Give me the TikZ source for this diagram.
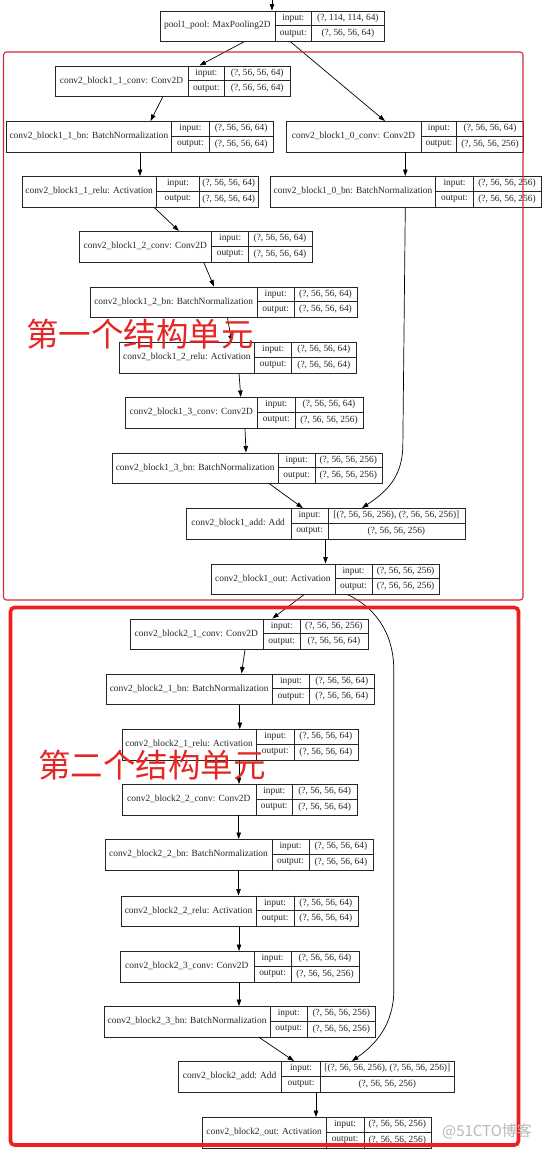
\documentclass[tikz,border=0pt]{standalone}
\usepackage{fontspec}
\setmainfont{Liberation Serif}
\newfontfamily\cjk{Noto Sans CJK SC}
\usetikzlibrary{arrows.meta}
\definecolor{redA}{RGB}{214,40,60}
\definecolor{redB}{RGB}{238,32,28}
\definecolor{redT}{RGB}{228,38,36}
\tikzset{
 lbox/.style={draw=black!85, line width=0.8pt, inner sep=0pt, anchor=north west, minimum height=30.5pt},
 lline/.style={draw=black!85, line width=0.8pt},
 ltxt/.style={inner sep=0pt, font=\fontsize{9.4}{11}\selectfont, text=black!85},
 arr/.style={draw=black, line width=0.7pt, -{Triangle[length=6.5pt,width=4.5pt]}},
 unitA/.style={draw=redA, line width=1.1pt, rounded corners=3pt},
 unitB/.style={draw=redB, line width=3.6pt, rounded corners=4pt},
 cjklbl/.style={inner sep=0pt, text=redT, font=\cjk\fontsize{32.5}{34}\selectfont},
}
% #1 name, #2 x left, #3 x name/label split, #4 x label/value split, #5 x right, #6 y top, #7 title, #8 input, #9 output
\newcommand\lyr[9]{%
 \node[lbox, minimum width={(#5-#2)*1pt}] (#1) at (#2,#6) {};
 \draw[lline] ({#3},{#6}) -- ({#3},{#6+30.5}) ({#4},{#6}) -- ({#4},{#6+30.5})
   ({#3},{#6+15.25}) -- ({#5},{#6+15.25});
 \node[ltxt] (#1-t) at ({(#2+#3)/2},{#6+15.25}) {#7};
 \node[ltxt] (#1-il) at ({(#3+#4)/2},{#6+7.6}) {input:};
 \node[ltxt] (#1-ol) at ({(#3+#4)/2},{#6+22.9}) {output:};
 \node[ltxt] (#1-iv) at ({(#4+#5)/2},{#6+7.6}) {#8};
 \node[ltxt] (#1-ov) at ({(#4+#5)/2},{#6+22.9}) {#9};
}
\begin{document}
\begin{tikzpicture}[x=1pt,y=-1pt]
\useasboundingbox (0,0) rectangle (548,1149);
\fill[white] (0,0) rectangle (548,1149);

\lyr{pool}{159.6}{275.1}{311.5}{384.3}{10.5}{pool1\_pool: MaxPooling2D}{(?, 114, 114, 64)}{(?, 56, 56, 64)}
\lyr{aconva}{55}{188}{224.7}{289.8}{65.5}{conv2\_block1\_1\_conv: Conv2D}{(?, 56, 56, 64)}{(?, 56, 56, 64)}
\lyr{abna}{6.3}{171.5}{209.3}{273}{121}{conv2\_block1\_1\_bn: BatchNormalization}{(?, 56, 56, 64)}{(?, 56, 56, 64)}
\lyr{aconvz}{286}{421}{456.8}{523.3}{121}{conv2\_block1\_0\_conv: Conv2D}{(?, 56, 56, 64)}{(?, 56, 56, 256)}
\lyr{arelua}{21.7}{156.5}{199.5}{258}{176}{conv2\_block1\_1\_relu: Activation}{(?, 56, 56, 64)}{(?, 56, 56, 64)}
\lyr{abnz}{270.2}{435.8}{473.2}{540.8}{176}{conv2\_block1\_0\_bn: BatchNormalization}{(?, 56, 56, 256)}{(?, 56, 56, 256)}
\lyr{aconvb}{78.8}{211.8}{248.5}{311.5}{231}{conv2\_block1\_2\_conv: Conv2D}{(?, 56, 56, 64)}{(?, 56, 56, 64)}
\lyr{abnb}{90}{257.3}{294}{357}{286.5}{conv2\_block1\_2\_bn: BatchNormalization}{(?, 56, 56, 64)}{(?, 56, 56, 64)}
\lyr{arelub}{119}{254.8}{291.6}{356}{342}{conv2\_block1\_2\_relu: Activation}{(?, 56, 56, 64)}{(?, 56, 56, 64)}
\lyr{aconvc}{125}{257.6}{295}{363}{397}{conv2\_block1\_3\_conv: Conv2D}{(?, 56, 56, 64)}{(?, 56, 56, 256)}
\lyr{abnc}{112}{278.3}{315}{381.5}{452.5}{conv2\_block1\_3\_bn: BatchNormalization}{(?, 56, 56, 256)}{(?, 56, 56, 256)}
\lyr{aadd}{185.5}{290.9}{328.3}{464.5}{508}{conv2\_block1\_add: Add}{[(?, 56, 56, 256), (?, 56, 56, 256)]}{(?, 56, 56, 256)}
\lyr{aout}{210.7}{335}{372}{439.3}{563.5}{conv2\_block1\_out: Activation}{(?, 56, 56, 256)}{(?, 56, 56, 256)}

\lyr{bconva}{129.5}{263.2}{300.3}{367.5}{618.5}{conv2\_block2\_1\_conv: Conv2D}{(?, 56, 56, 256)}{(?, 56, 56, 64)}
\lyr{bbna}{106}{272.3}{309.8}{373.8}{673.5}{conv2\_block2\_1\_bn: BatchNormalization}{(?, 56, 56, 64)}{(?, 56, 56, 64)}
\lyr{brelua}{121.5}{256.6}{294}{357.7}{729}{conv2\_block2\_1\_relu: Activation}{(?, 56, 56, 64)}{(?, 56, 56, 64)}
\lyr{bconvb}{121.5}{256.2}{292.3}{357}{784}{conv2\_block2\_2\_conv: Conv2D}{(?, 56, 56, 64)}{(?, 56, 56, 64)}
\lyr{bbnb}{105}{272}{309}{372.8}{839}{conv2\_block2\_2\_bn: BatchNormalization}{(?, 56, 56, 64)}{(?, 56, 56, 64)}
\lyr{brelub}{120.8}{256.2}{294}{357.7}{895.5}{conv2\_block2\_2\_relu: Activation}{(?, 56, 56, 64)}{(?, 56, 56, 64)}
\lyr{bconvc}{119.7}{254}{291.2}{358.8}{951}{conv2\_block2\_3\_conv: Conv2D}{(?, 56, 56, 64)}{(?, 56, 56, 256)}
\lyr{bbnc}{104}{270.2}{307.3}{375.2}{1006}{conv2\_block2\_3\_bn: BatchNormalization}{(?, 56, 56, 256)}{(?, 56, 56, 256)}
\lyr{badd}{177.5}{281.8}{320.3}{454.3}{1061}{conv2\_block2\_add: Add}{[(?, 56, 56, 256), (?, 56, 56, 256)]}{(?, 56, 56, 256)}
\lyr{bout}{202}{326.2}{364}{430.5}{1117}{conv2\_block2\_out: Activation}{(?, 56, 56, 256)}{(?, 56, 56, 256)}

% connectors
\coordinate (topin) at (272,0);
\draw[arr] (topin) -- (pool.north -| 272,0);
\draw[arr] (pool.south -| 244,0) -- (aconva.north -| 199.5,0);
\draw[arr] (pool.south -| 290.5,0) -- (aconvz.north -| 385,0);
\draw[arr] (aconva.south -| 162.8,0) -- (abna.north -| 150.5,0);
\draw[arr] (abna.south -| 140,0) -- (arelua.north -| 140,0);
\draw[arr] (aconvz.south -| 405.3,0) -- (abnz.north -| 405.3,0);
\draw[arr] (arelua.south -| 154,0) -- (aconvb.north -| 179,0);
\draw[arr] (aconvb.south -| 203.7,0) -- (abnb.north -| 214,0);
\draw[arr] (abnb.south -| 227.5,0) -- (arelub.north -| 231.7,0);
\draw[arr] (arelub.south -| 239,0) -- (aconvc.north -| 240.8,0);
\draw[arr] (aconvc.south -| 245,0) -- (abnc.north -| 246,0);
\draw[arr] (abnc.south -| 269.5,0) -- (aadd.north -| 302.8,0);
\draw[arr] (abnz.south -| 405.3,0) -- (402.8,448) .. controls (401.5,478) and (386,492) .. (aadd.north -| 362,0);
\draw[arr] (aadd.south -| 325.5,0) -- (aout.north -| 325.5,0);
\draw[arr] (aout.south -| 303.8,0) -- (bconva.north -| 272.3,0);
\draw[arr] (aout.south -| 348,0) .. controls (372,606) and (393.8,630) .. (393.8,670) -- (393.8,990) .. controls (393.8,1025) and (375,1045) .. (badd.north -| 352,0);
\draw[arr] (bconva.south -| 245,0) -- (bbna.north -| 241.5,0);
\draw[arr] (bbna.south -| 239.8,0) -- (brelua.north -| 239.8,0);
\draw[arr] (brelua.south -| 239,0) -- (bconvb.north -| 239,0);
\draw[arr] (bconvb.south -| 238.7,0) -- (bbnb.north -| 238.7,0);
\draw[arr] (bbnb.south -| 238.5,0) -- (brelub.north -| 238.5,0);
\draw[arr] (brelub.south -| 239,0) -- (bconvc.north -| 239,0);
\draw[arr] (bconvc.south -| 239,0) -- (bbnc.north -| 239,0);
\draw[arr] (bbnc.south -| 259,0) -- (badd.north -| 294,0);
\draw[arr] (badd.south -| 316,0) -- (bout.north -| 316,0);

% unit frames
\draw[unitA] (3.5,52) rectangle (523,600);
\draw[unitB] (10.5,607.5) rectangle (518.5,1145);

% labels
\node[cjklbl] (unitonelbl) at (140,334.5) {第一个结构单元};
\node[cjklbl] (unittwolbl) at (152,765) {第二个结构单元};
\node[inner sep=0pt, text=black!28, font=\cjk\fontsize{15}{16}\selectfont] (wm) at (487,1131) {@51CTO博客};
\end{tikzpicture}
\end{document}
